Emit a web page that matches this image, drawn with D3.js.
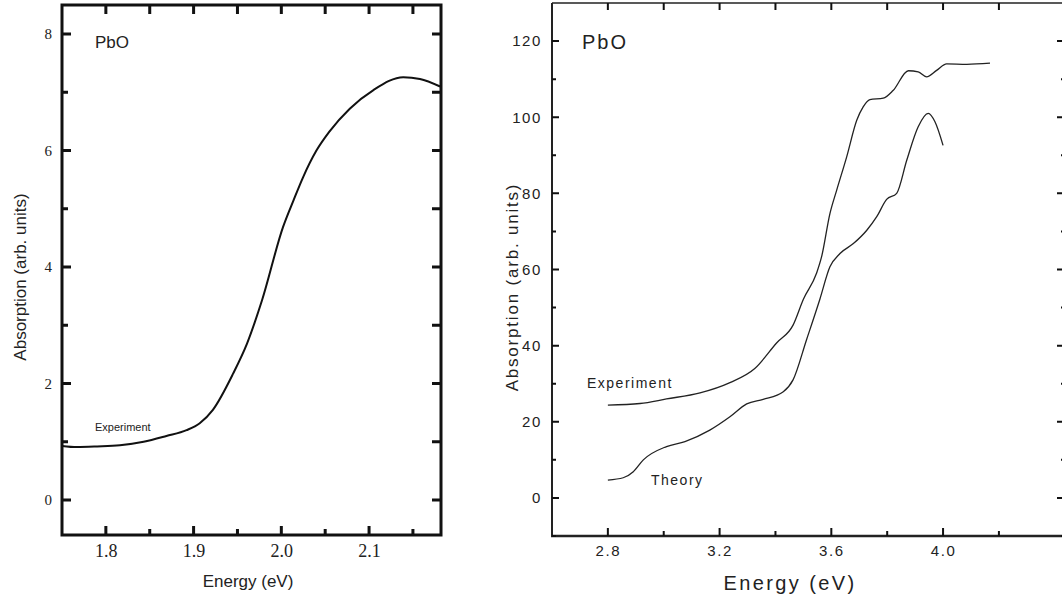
<!DOCTYPE html>
<html lang="en">
<head>
<meta charset="UTF-8">
<title>PbO absorption</title>
<script src="https://d3js.org/d3.v7.min.js"></script>
<style>
  body { margin: 0; background: #fff; }
  svg { display: block; }
</style>
</head>
<body>
<svg id="chart" width="1062" height="598"></svg>
<script>
// left panel: experiment near the band edge
const leftEnergy = [1.75, 1.767, 1.79, 1.816, 1.843, 1.869, 1.892, 1.907, 1.922, 1.945, 1.961, 1.978, 2.002, 2.014, 2.025, 2.04, 2.055, 2.078, 2.105, 2.139, 2.158, 2.181];
const leftExp    = [0.93, 0.91, 0.92, 0.94, 1.0, 1.1, 1.2, 1.32, 1.55, 2.17, 2.69, 3.43, 4.69, 5.15, 5.55, 6.0, 6.33, 6.72, 7.04, 7.26, 7.23, 7.1];
const leftXTicks = [1.8, 1.9, 2.0, 2.1];
const leftXMinor = [1.85, 1.95, 2.05, 2.15];
const leftYTicks = [0, 2, 4, 6, 8];
const leftYMinor = [1, 3, 5, 7];

// right panel: experiment vs theory
const rightExpEnergy = [2.8, 2.915, 3.01, 3.13, 3.237, 3.326, 3.404, 3.463, 3.5, 3.547, 3.565, 3.595, 3.619, 3.655, 3.691, 3.714, 3.738, 3.786, 3.821, 3.876, 3.911, 3.941, 3.977, 4.013, 4.085, 4.168];
const rightExp       = [24.4, 24.8, 26, 27.6, 30.3, 34, 40.7, 45.4, 52.2, 59, 63.3, 74.7, 80.8, 89.6, 99.2, 102.7, 104.6, 105, 107, 112.2, 111.9, 110.6, 112.3, 114, 113.9, 114.2];
const rightThEnergy  = [2.8, 2.855, 2.891, 2.927, 3.01, 3.076, 3.165, 3.237, 3.297, 3.356, 3.428, 3.463, 3.511, 3.559, 3.595, 3.631, 3.679, 3.727, 3.762, 3.798, 3.834, 3.87, 3.911, 3.947, 3.971, 4.0];
const rightTheory    = [4.7, 5.3, 6.9, 10, 13.5, 14.8, 17.8, 21.3, 24.7, 25.9, 27.9, 31, 41.5, 52.2, 60.7, 64.2, 66.8, 70.3, 73.8, 78.4, 80, 88.7, 97.5, 101, 98.8, 92.6];
const rightXTicks = [2.8, 3.2, 3.6, 4.0];
const rightXMinor = [3.0, 3.4, 3.8, 4.2];
const rightYTicks = [0, 20, 40, 60, 80, 100, 120];
const rightYMinor = [-10, 10, 30, 50, 70, 90, 110];

const svg = d3.select("#chart");
const sans = "'Liberation Sans', Arial, sans-serif";
const serif = "'Liberation Serif', 'Times New Roman', serif";
const tickColor = "#111";

function zip(xs, ys) { return xs.map((x, i) => [x, ys[i]]); }

// inward tick marks as one path per side, positioned with the scale
function tickMarks(g, scale, values, orient, pos, len, w) {
    const horiz = orient === "bottom" || orient === "top";
    const dir = (orient === "bottom" || orient === "right") ? -1 : 1;
    const d = values.map(v => {
        const p = scale(v);
        return horiz ? "M" + p + "," + pos + "V" + (pos + dir * len)
                     : "M" + pos + "," + p + "H" + (pos + dir * len);
    }).join("");
    g.append("path")
        .attr("d", d)
        .attr("fill", "none")
        .attr("stroke", tickColor)
        .attr("stroke-width", w);
}

// tick labels only, from d3 axes
function labels(g, axis) {
    g.call(axis.tickSize(0));
    g.select(".domain").remove();
    g.selectAll(".tick line").remove();
    return g.selectAll(".tick text");
}

// ---------- left panel ----------
const lx = d3.scaleLinear().domain([1.75, 2.182]).range([62, 441]);
const ly = d3.scaleLinear().domain([-0.6, 8.5]).range([535, 5]);

const left = svg.append("g");

labels(left.append("g").attr("transform", "translate(0,535)"),
    d3.axisBottom(lx).tickValues(leftXTicks).tickPadding(9).tickFormat(d3.format(".1f")))
    .attr("font-family", serif).attr("font-size", 18).attr("fill", "#222");
labels(left.append("g").attr("transform", "translate(62,0)"),
    d3.axisLeft(ly).tickValues(leftYTicks).tickPadding(10).tickFormat(d3.format("d")))
    .attr("font-family", serif).attr("font-size", 15).attr("fill", "#222");

left.append("rect")
    .attr("x", 62).attr("y", 5).attr("width", 379).attr("height", 530)
    .attr("fill", "none").attr("stroke", "#111").attr("stroke-width", 3);

tickMarks(left, lx, leftXTicks, "bottom", 535, 9, 3);
tickMarks(left, lx, leftXMinor, "bottom", 535, 6, 3);
tickMarks(left, lx, leftXTicks.concat(leftXMinor), "top", 5, 9, 3);
tickMarks(left, ly, leftYTicks, "left", 62, 9, 3);
tickMarks(left, ly, leftYMinor, "left", 62, 6, 3);
tickMarks(left, ly, leftYTicks.concat(leftYMinor), "right", 441, 9, 3);

left.append("path")
    .datum(zip(leftEnergy, leftExp))
    .attr("fill", "none").attr("stroke", "#111").attr("stroke-width", 2)
    .attr("d", d3.line().x(d => lx(d[0])).y(d => ly(d[1])).curve(d3.curveMonotoneX));

left.append("text").attr("x", 95).attr("y", 48)
    .attr("font-family", sans).attr("font-size", 17).attr("fill", "#222").text("PbO");
left.append("text").attr("x", 95).attr("y", 431)
    .attr("font-family", sans).attr("font-size", 11).attr("fill", "#222").text("Experiment");
left.append("text").attr("x", 248).attr("y", 587).attr("text-anchor", "middle")
    .attr("font-family", sans).attr("font-size", 17).attr("fill", "#222").text("Energy (eV)");
left.append("text").attr("transform", "translate(26,277) rotate(-90)").attr("text-anchor", "middle")
    .attr("font-family", sans).attr("font-size", 17).attr("fill", "#222").text("Absorption (arb. units)");

// ---------- right panel ----------
const rx = d3.scaleLinear().domain([2.6, 4.433]).range([552, 1064]);
const ry = d3.scaleLinear().domain([-10, 130]).range([536, 3]);

const right = svg.append("g");

labels(right.append("g").attr("transform", "translate(0,536)"),
    d3.axisBottom(rx).tickValues(rightXTicks).tickPadding(9).tickFormat(d3.format(".1f")))
    .attr("font-family", sans).attr("font-size", 15).attr("letter-spacing", "1.6px").attr("fill", "#222");
labels(right.append("g").attr("transform", "translate(552,0)"),
    d3.axisLeft(ry).tickValues(rightYTicks).tickPadding(10).tickFormat(d3.format("d")))
    .attr("font-family", sans).attr("font-size", 15).attr("letter-spacing", "1.6px").attr("fill", "#222");

right.append("line").attr("x1", 552).attr("x2", 1064).attr("y1", 3).attr("y2", 3)
    .attr("stroke", "#222").attr("stroke-width", 1.5);
right.append("line").attr("x1", 552).attr("x2", 552).attr("y1", 3).attr("y2", 537)
    .attr("stroke", "#222").attr("stroke-width", 2);
right.append("line").attr("x1", 551).attr("x2", 1064).attr("y1", 536).attr("y2", 536)
    .attr("stroke", "#222").attr("stroke-width", 2.5);

tickMarks(right, rx, rightXTicks, "bottom", 536, 8, 2);
tickMarks(right, rx, rightXMinor, "bottom", 536, 5, 2);
tickMarks(right, rx, rightXTicks.concat(rightXMinor), "top", 3, 7, 2);
tickMarks(right, ry, rightYTicks, "left", 552, 7, 2);
tickMarks(right, ry, rightYMinor, "left", 552, 4, 2);
tickMarks(right, ry, rightYTicks, "right", 1064, 7, 2);
tickMarks(right, ry, rightYMinor, "right", 1064, 3, 2);

const rline = d3.line().x(d => rx(d[0])).y(d => ry(d[1])).curve(d3.curveMonotoneX);
right.append("path").datum(zip(rightExpEnergy, rightExp))
    .attr("fill", "none").attr("stroke", "#222").attr("stroke-width", 1.3).attr("d", rline);
right.append("path").datum(zip(rightThEnergy, rightTheory))
    .attr("fill", "none").attr("stroke", "#222").attr("stroke-width", 1.3).attr("d", rline);

right.append("text").attr("x", 582).attr("y", 49)
    .attr("font-family", sans).attr("font-size", 20).attr("letter-spacing", "2px").attr("fill", "#222").text("PbO");
right.append("text").attr("x", 587).attr("y", 388)
    .attr("font-family", sans).attr("font-size", 14).attr("letter-spacing", "1.5px").attr("fill", "#222").text("Experiment");
right.append("text").attr("x", 651).attr("y", 485)
    .attr("font-family", sans).attr("font-size", 14).attr("letter-spacing", "1.5px").attr("fill", "#222").text("Theory");
right.append("text").attr("x", 790).attr("y", 590).attr("text-anchor", "middle")
    .attr("font-family", sans).attr("font-size", 20).attr("letter-spacing", "2.4px").attr("fill", "#222").text("Energy (eV)");
right.append("text").attr("transform", "translate(518,287) rotate(-90)").attr("text-anchor", "middle")
    .attr("font-family", sans).attr("font-size", 17).attr("letter-spacing", "1.8px").attr("fill", "#222").text("Absorption (arb. units)");
</script>
</body>
</html>
